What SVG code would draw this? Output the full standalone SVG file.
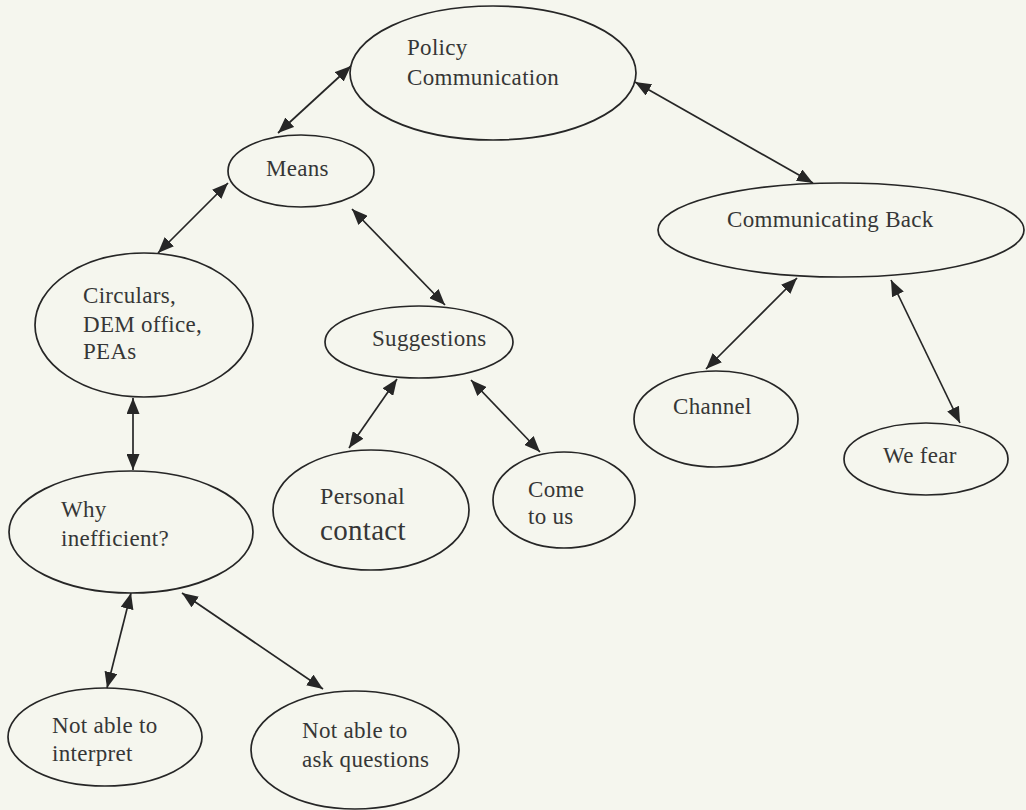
<svg xmlns="http://www.w3.org/2000/svg" width="1026" height="810" viewBox="0 0 1026 810">
<defs>
<marker id="ah" markerUnits="userSpaceOnUse" markerWidth="16" markerHeight="13" refX="16" refY="6.5" orient="auto-start-reverse" viewBox="0 0 16 13">
<path d="M0,0 L16,6.5 L0,13 z" fill="#262626"/>
</marker>
<style>
.n ellipse{fill:none;stroke:#262626;stroke-width:1.7}
.n text{font-family:"Liberation Serif","Times New Roman",serif;font-size:23px;fill:#363636;letter-spacing:0.3px}
.c line{stroke:#262626;stroke-width:1.7;marker-start:url(#ah);marker-end:url(#ah)}
</style>
</defs>
<rect width="1026" height="810" fill="#f5f6ee"/>
<g id="connectors" class="c">
<line x1="351" y1="66" x2="278" y2="133"/>
<line x1="635" y1="82" x2="813" y2="183"/>
<line x1="228" y1="183" x2="158" y2="253"/>
<line x1="352" y1="209" x2="445" y2="305"/>
<line x1="133" y1="398" x2="133" y2="470"/>
<line x1="397" y1="379" x2="349" y2="448"/>
<line x1="471" y1="380" x2="540" y2="452"/>
<line x1="797" y1="278" x2="706" y2="369"/>
<line x1="891" y1="280" x2="960" y2="423"/>
<line x1="131" y1="593" x2="107" y2="688"/>
<line x1="182" y1="593" x2="323" y2="689"/>
</g>
<g id="policy" class="n"><ellipse cx="493" cy="73" rx="143" ry="67"/><text x="407" y="55">Policy</text><text x="407" y="85">Communication</text></g>
<g id="means" class="n"><ellipse cx="301" cy="171" rx="73" ry="36"/><text x="266" y="176">Means</text></g>
<g id="circulars" class="n"><ellipse cx="144" cy="325" rx="109" ry="72"/><text x="83" y="303">Circulars,</text><text x="83" y="332">DEM office,</text><text x="83" y="359">PEAs</text></g>
<g id="suggestions" class="n"><ellipse cx="419" cy="342" rx="94" ry="36"/><text x="372" y="346">Suggestions</text></g>
<g id="communicating-back" class="n"><ellipse cx="841" cy="230" rx="183" ry="47"/><text x="727" y="227">Communicating Back</text></g>
<g id="channel" class="n"><ellipse cx="716" cy="419" rx="82" ry="48"/><text x="673" y="414">Channel</text></g>
<g id="we-fear" class="n"><ellipse cx="926" cy="459" rx="82" ry="36"/><text x="883" y="463">We fear</text></g>
<g id="why-inefficient" class="n"><ellipse cx="131" cy="532" rx="122" ry="61"/><text x="61" y="517">Why</text><text x="61" y="546">inefficient?</text></g>
<g id="personal-contact" class="n"><ellipse cx="371" cy="510" rx="98" ry="60"/><text x="320" y="504" style="font-size:24px">Personal</text><text x="320" y="540" style="font-size:29px">contact</text></g>
<g id="come-to-us" class="n"><ellipse cx="564" cy="500" rx="71" ry="48"/><text x="528" y="497">Come</text><text x="528" y="524">to us</text></g>
<g id="not-able-interpret" class="n"><ellipse cx="105" cy="737" rx="97" ry="49"/><text x="52" y="733">Not able to</text><text x="52" y="761">interpret</text></g>
<g id="not-able-ask" class="n"><ellipse cx="355" cy="750" rx="104" ry="59"/><text x="302" y="738">Not able to</text><text x="302" y="767">ask questions</text></g>
</svg>
